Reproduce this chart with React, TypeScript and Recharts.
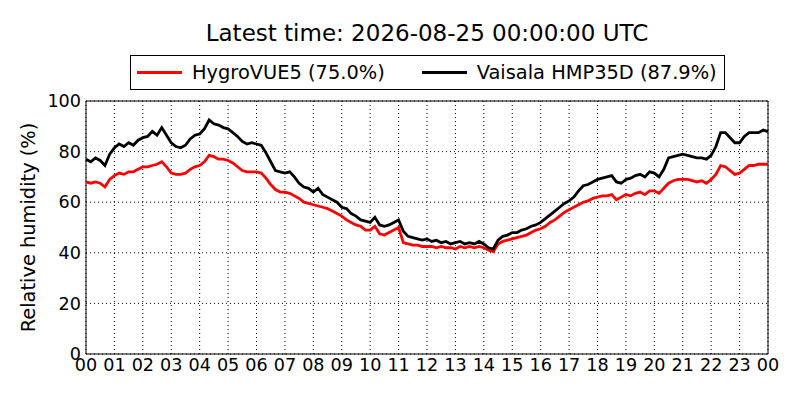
import { LineChart, Line, XAxis, YAxis, CartesianGrid, ReferenceArea, Label } from "recharts";

// one value every 10 minutes, 00:00 -> 24:00 (rows are hours)
const hygroVue: number[] = [
  68, 67.5, 68, 67.5, 66, 69,
  70.5, 71.5, 71, 72, 72, 73,
  74, 74, 74.5, 75, 76, 74,
  71.5, 71, 71, 71.5, 73, 74,
  74.5, 76, 78.5, 78, 77, 77,
  76.5, 75.5, 74, 72.5, 72, 72,
  72, 71.5, 69.5, 67, 65, 64,
  64, 63.5, 62.5, 61.5, 60, 59.5,
  59, 58.5, 58, 57.5, 56.5, 55.5,
  54.5, 53, 52, 51, 50.5, 49,
  49, 50.5, 47.5, 47, 48, 49,
  50, 44, 43.5, 43, 43, 42.5,
  42.5, 42.5, 42, 42.5, 42, 42,
  41.5, 42.5, 42, 42.5, 42, 42.5,
  42, 41, 40.5, 43.5, 44.5, 45,
  45.5, 46, 46.5, 47, 48, 49,
  49.5, 50.5, 52, 53, 54.5, 56,
  57, 58, 59, 60, 60.5, 61.5,
  62, 62.5, 62.5, 63, 61, 62,
  63, 62.5, 63.5, 64, 63, 64.5,
  64.5, 63.5, 65.5, 67.5, 68.5, 69,
  69, 69, 68.5, 68, 68.5, 67.5,
  69, 71, 74.5, 74, 72.5, 71,
  71.5, 73, 74.5, 74.5, 75, 75,
  75,
];

const vaisala: number[] = [
  77, 76, 77.5, 76.5, 74.5, 79,
  81.5, 83, 82, 83.5, 82.5, 84.5,
  85.5, 86, 88, 86.5, 89.5, 86.5,
  83.5, 82, 81.5, 82.5, 85, 86.5,
  87, 89, 92.5, 91, 90.5, 89.5,
  89, 87.5, 86, 84, 83, 83.5,
  83, 82.5, 79.5, 76, 72.5, 72,
  71.5, 72, 70, 67.5, 66, 65.5,
  64, 65.5, 63, 62, 61, 60,
  58, 57.5, 55.5, 54.5, 53, 52.5,
  52, 54, 51, 50.5, 51, 52,
  53, 48.5, 46.5, 46, 45.5, 45,
  45.5, 44.5, 45, 44, 44.5, 43.5,
  44, 44.5, 43.5, 44, 43.5, 44.5,
  43.5, 42, 41.5, 45, 46.5, 47,
  48, 48, 49, 49.5, 50.5, 51,
  52, 53.5, 55, 56.5, 58, 59.5,
  60.5, 62, 64.5, 66.5, 67, 68,
  69, 69.5, 70, 70.5, 68, 67.5,
  69, 69.5, 70.5, 71, 70, 72,
  71.5, 70, 73, 77.5, 78, 78.5,
  79, 78.5, 78, 77.5, 77.5, 77,
  78.5, 82, 87.5, 87.5, 85.5, 83.5,
  83.5, 86, 87.5, 87.5, 87.5, 88.5,
  87.9,
];

const hourTicks = Array.from({ length: 25 }, (_, h) => h);
const humidityTicks = [0, 20, 40, 60, 80, 100];

const legendItems = [
  { label: "HygroVUE5 (75.0%)", color: "#ff0000" },
  { label: "Vaisala HMP35D (87.9%)", color: "#000000" },
];

const data = hygroVue.map((v, i) => ({ t: i / 6, hygro: v, vaisala: vaisala[i] }));

const font = "'DejaVu Sans', sans-serif";
const fs = 19.4;
const tickFs = 17.6;

export default function App() {
  return (
    <div style={{ position: "absolute", left: 0, top: 0, width: 800, height: 400, background: "#fff", fontFamily: font }}>
      <div style={{ position: "absolute", top: 20, left: 86, width: 682, textAlign: "center", fontSize: 23, color: "#000" }}>
        Latest time: 2026-08-25 00:00:00 UTC
      </div>
      <div
        style={{
          position: "absolute",
          left: 130,
          top: 55,
          width: 593,
          height: 33,
          border: "1px solid #000",
          display: "flex",
          alignItems: "center",
          fontSize: fs,
          color: "#000",
        }}
      >
        {legendItems.map((item, i) => (
          <div key={item.label} style={{ display: "flex", alignItems: "center", marginLeft: i === 0 ? 6 : 37 }}>
            <div style={{ width: 45, height: 3, background: item.color }} />
            <span style={{ marginLeft: 10 }}>{item.label}</span>
          </div>
        ))}
      </div>
      <LineChart width={800} height={400} data={data} margin={{ top: 101, right: 32, bottom: 16, left: 0 }}>
        <CartesianGrid stroke="#000" strokeDasharray="1 3" strokeWidth={1} />
        <XAxis
          dataKey="t"
          type="number"
          domain={[0, 24]}
          ticks={hourTicks}
          interval={0}
          height={30}
          tickFormatter={(h: number) => String(h % 24).padStart(2, "0")}
          tickLine={false}
          axisLine={false}
          tickSize={0}
          tickMargin={5}
          tick={{ fill: "#000", fontSize: tickFs, fontFamily: font }}
        />
        <YAxis
          type="number"
          domain={[0, 100]}
          ticks={humidityTicks}
          interval={0}
          width={86}
          tickLine={false}
          axisLine={false}
          tickSize={0}
          tickMargin={5}
          tick={{ fill: "#000", fontSize: tickFs, fontFamily: font }}
        >
          <Label
            value="Relative humidity (%)"
            angle={-90}
            position="insideLeft"
            offset={28}
            style={{ textAnchor: "middle", fill: "#000", fontSize: fs, fontFamily: font }}
          />
        </YAxis>
        <Line dataKey="hygro" stroke="#ff0000" strokeWidth={2.8} dot={false} isAnimationActive={false} />
        <Line dataKey="vaisala" stroke="#000000" strokeWidth={2.8} dot={false} isAnimationActive={false} />
        <ReferenceArea x1={0} x2={24} y1={0} y2={100} fill="none" stroke="#000" strokeWidth={1} ifOverflow="visible" />
      </LineChart>
    </div>
  );
}
